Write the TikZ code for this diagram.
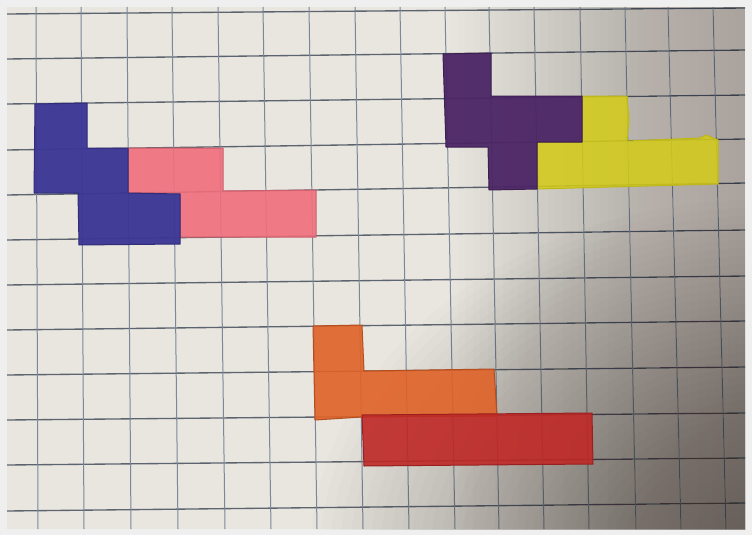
\documentclass[tikz,border=0pt]{standalone}

\definecolor{sfondo}{HTML}{EFEFEF}
\definecolor{carta}{HTML}{E9E5DF}
\definecolor{ombra}{HTML}{3A302C}
\definecolor{rigah}{HTML}{5C6470}
\definecolor{rigav}{HTML}{7A889A}
\definecolor{blu}{HTML}{3C3794}
\definecolor{rosa}{HTML}{F06F7D}
\definecolor{viola}{HTML}{4B2565}
\definecolor{giallo}{HTML}{D3CB1B}
\definecolor{arancio}{HTML}{E06227}
\definecolor{rosso}{HTML}{BF2826}

\tikzset{
  rigaO/.style={rigah, line width=1.35pt},
  rigaV/.style={rigav, line width=1pt},
  pezzo/.style={line width=1pt, line join=round, fill opacity=0.9},
}

\begin{document}
\begin{tikzpicture}[x=1pt,y=-1pt]
    \useasboundingbox (0,0) rectangle (752,535);
    % sfondo
    \fill[sfondo] (0,0) rectangle (752,535);
    % foglio
    \fill[carta] (7,7) rectangle (745,529);
    \begin{scope}
        \clip (7,7) rectangle (745,529);
        % righe orizzontali
        \foreach \a/\b in {14/8, 59/50, 104/95, 150/139, 195/183, 240/230, 285/276, 330/321, 375/367, 420/413, 465/458, 511/503}
            \draw[rigaO] (7,\a) -- (745,\b);
        % righe verticali
        \foreach \a/\b in {36/38, 81/84, 127/131, 172/178, 218/225, 263/271, 309/317, 355/363, 400/409, 445/455, 489/499, 534/544, 580/589, 625/636, 668/681, 713/726}
            \draw[rigaV] (\a,7) -- (\b,529);

        % ombra verso destra
        \foreach \k in {0,...,39}
            \fill[ombra, opacity=0.009] ({450+\k*7.5},7) rectangle (745,529);
        % ombra in basso a destra
        \foreach \k in {1,...,45}
            \fill[ombra, opacity=0.015] (760,560) ellipse ({10*\k} and {8*\k});
    \end{scope}

    % pezzi rosa e blu
    \filldraw[pezzo, fill=rosa, draw=rosa!85!black] (128,148) -- (223,148) -- (223,191) -- (316,190) -- (316,237) -- (180,237) -- (180,193) -- (128,193) -- cycle;
    \filldraw[pezzo, fill=blu, draw=blu!80!black, fill opacity=0.96] (35,104) -- (87,103) -- (87,148) -- (128,148) -- (128,193) -- (180,194) -- (180,244) -- (79,245) -- (78,193) -- (34,193) -- cycle;

    % pezzi viola e giallo
    \filldraw[pezzo, fill=giallo, draw=giallo!90!black, fill opacity=0.88] (582,96) -- (627,96) -- (629,120) -- (627,141) -- (700,138) -- (706,135) -- (718,140) -- (718,184) -- (538,189) -- (537,142) -- (582,142) -- cycle;
    \filldraw[pezzo, fill=viola, draw=viola!80!black, fill opacity=0.95] (443,54) -- (491,53) -- (491,96) -- (582,96) -- (582,142) -- (537,142) -- (537,189) -- (489,190) -- (488,147) -- (446,147) -- cycle;

    % pezzi arancio e rosso
    \filldraw[pezzo, fill=arancio, draw=arancio!80!black] (313,326) -- (362,325) -- (364,371) -- (494,369) -- (497,416) -- (362,417) -- (315,420) -- cycle;
    \filldraw[pezzo, fill=rosso, draw=rosso!80!black] (362,415) -- (592,413) -- (593,464) -- (364,466) -- cycle;
\end{tikzpicture}
\end{document}
